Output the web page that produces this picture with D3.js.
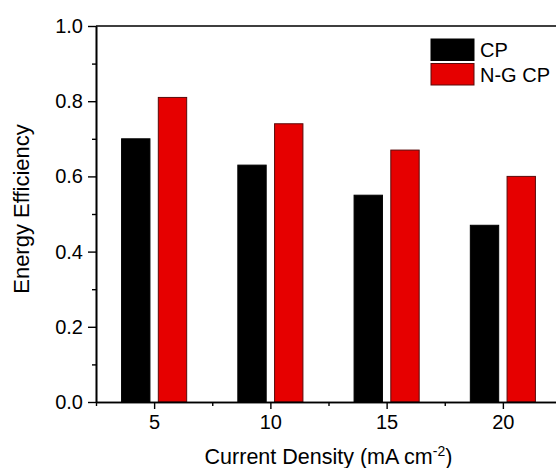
<!DOCTYPE html>
<html>
<head>
<meta charset="utf-8">
<script src="https://cdn.jsdelivr.net/npm/d3@7"></script>
<style>
  body { margin: 0; background: #fff; }
  text { font-family: Arial, "Liberation Sans", sans-serif; fill: #000; }
</style>
</head>
<body>
<svg id="chart" width="556" height="468"></svg>
<script>
// current density categories (mA cm-2)
const densities = [5, 10, 15, 20];
// energy efficiency
const cpValues = [0.70, 0.63, 0.55, 0.47];
const ngcpValues = [0.81, 0.74, 0.67, 0.60];
const seriesNames = ["CP", "N-G CP"];
const seriesColors = ["#000000", "#e60000"];
const seriesStrokes = ["#000000", "#5a0a0a"];
const yTicks = [0, 0.2, 0.4, 0.6, 0.8, 1.0];
const yMinor = [0.1, 0.3, 0.5, 0.7, 0.9];
const xMinor = [2.5, 7.5, 12.5, 17.5, 22.5];

const svg = d3.select("#chart");
const plot = {left: 96, right: 561, top: 26, bottom: 402};

let x = d3.scaleLinear().domain([2.5, 22.5]).range([plot.left, plot.right]);
let y = d3.scaleLinear().domain([0, 1]).range([plot.bottom, plot.top]);

const barW = 1.22;   // in data units
const offset = 0.79;

// bars
let series = [cpValues, ngcpValues];
series.forEach((vals, s) => {
    svg.append("g")
        .selectAll("rect")
        .data(vals)
        .enter()
        .append("rect")
        .attr("x", (d, i) => x(densities[i] + (s == 0 ? -offset : offset) - barW / 2))
        .attr("width", x(barW) - x(0))
        .attr("y", d => y(d))
        .attr("height", d => y(0) - y(d))
        .attr("fill", seriesColors[s])
        .attr("stroke", seriesStrokes[s])
        .attr("stroke-width", 1);
});

// frame (top and right)
svg.append("path")
    .attr("d", `M${plot.left},${plot.top}H${plot.right}V${plot.bottom}`)
    .attr("fill", "none")
    .attr("stroke", "#000")
    .attr("stroke-width", 1.6);

// y axis
let yAxis = d3.axisLeft(y).tickValues(yTicks).tickFormat(d3.format(".1f")).tickSizeInner(8).tickSizeOuter(0).tickPadding(5);
let gy = svg.append("g").attr("transform", `translate(${plot.left},0)`).call(yAxis);
let yMinorAxis = d3.axisLeft(y).tickValues(yMinor).tickFormat("").tickSizeInner(4).tickSizeOuter(0);
svg.append("g").attr("transform", `translate(${plot.left},0)`).call(yMinorAxis);

// x axis
let xAxis = d3.axisBottom(x).tickValues(densities).tickFormat(d3.format("d")).tickSizeInner(7).tickSizeOuter(0).tickPadding(6);
let gx = svg.append("g").attr("transform", `translate(0,${plot.bottom})`).call(xAxis);
let xMinorAxis = d3.axisBottom(x).tickValues(xMinor).tickFormat("").tickSizeInner(4).tickSizeOuter(0);
svg.append("g").attr("transform", `translate(0,${plot.bottom})`).call(xMinorAxis);

svg.selectAll(".domain").attr("stroke", "#000").attr("stroke-width", 1.6);
svg.selectAll(".tick line").attr("stroke", "#000").attr("stroke-width", 1.4);
svg.selectAll(".tick text")
    .style("font-family", "Arial, 'Liberation Sans', sans-serif")
    .style("font-size", "20px")
    .attr("fill", "#000");

// axis titles
svg.append("text")
    .attr("x", (plot.left + plot.right) / 2)
    .attr("y", 464)
    .attr("text-anchor", "middle")
    .style("font-size", "21.5px")
    .html('Current Density (mA cm<tspan dy="-8" style="font-size:14px">-2</tspan><tspan dy="8">)</tspan>');

svg.append("text")
    .attr("transform", `translate(29,209) rotate(-90)`)
    .attr("text-anchor", "middle")
    .style("font-size", "22px")
    .text("Energy Efficiency");

// legend
let legend = svg.append("g").attr("transform", "translate(431,39)");
seriesNames.forEach((name, i) => {
    legend.append("rect")
        .attr("x", 0)
        .attr("y", i * 24.5)
        .attr("width", 43)
        .attr("height", 21.5)
        .attr("fill", seriesColors[i])
        .attr("stroke", seriesStrokes[i])
        .attr("stroke-width", 1);
    legend.append("text")
        .attr("x", 49)
        .attr("y", i * 24.5 + 18)
        .style("font-size", "20px")
        .text(name);
});
</script>
</body>
</html>
